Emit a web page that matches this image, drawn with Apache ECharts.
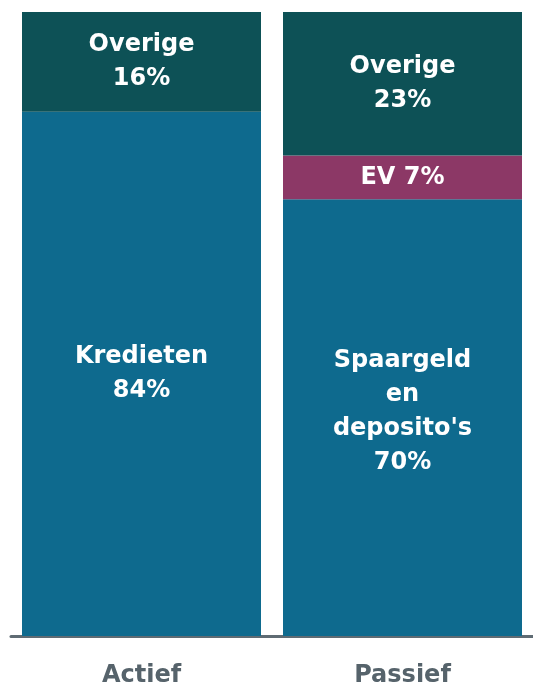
<!DOCTYPE html>
<html>
<head>
<meta charset="utf-8">
<script src="https://cdn.jsdelivr.net/npm/echarts@6/dist/echarts.min.js"></script>
<style>
  html, body { margin: 0; padding: 0; background: #fff; }
  #chart { width: 533px; height: 688px; }
</style>
</head>
<body>
<div id="chart"></div>
<script>
const categories = ['Actief', 'Passief'];
const baseNames = ['Kredieten', "Spaargeld\nen\ndeposito's"];
const baseValues = [84, 70];
const evValues = [0, 7];
const otherValues = [16, 23];

const labelFont = {
  show: true,
  position: 'inside',
  color: '#ffffff',
  fontFamily: 'DejaVu Sans',
  fontWeight: 'bold',
  fontSize: 24,
  lineHeight: 34
};

const chart = echarts.init(document.getElementById('chart'));
chart.setOption({
  animation: false,
  grid: { left: 11, right: 0, top: 12, bottom: 52 },
  xAxis: {
    type: 'category',
    data: categories,
    axisLine: { lineStyle: { color: '#5f6b73', width: 3 } },
    axisTick: { show: false },
    axisLabel: {
      color: '#56636b',
      fontFamily: 'DejaVu Sans',
      fontWeight: 'bold',
      fontSize: 24,
      margin: 28
    }
  },
  yAxis: { type: 'value', min: 0, max: 100, show: false },
  series: [
    {
      name: 'Basis',
      type: 'bar',
      stack: 'total',
      barWidth: 239,
      data: baseValues,
      itemStyle: { color: '#0e6a8e' },
      label: Object.assign({}, labelFont, {
        formatter: (p) => baseNames[p.dataIndex] + '\n' + p.value + '%'
      }),
      labelLayout: (params) => (params.dataIndex === 1 ? { dy: -6 } : {})
    },
    {
      name: 'EV',
      type: 'bar',
      stack: 'total',
      barWidth: 239,
      data: evValues,
      itemStyle: { color: '#8c3866' },
      label: Object.assign({}, labelFont, {
        formatter: (p) => (p.value ? 'EV ' + p.value + '%' : '')
      })
    },
    {
      name: 'Overige',
      type: 'bar',
      stack: 'total',
      barWidth: 239,
      data: otherValues,
      itemStyle: { color: '#0d5156' },
      label: Object.assign({}, labelFont, {
        formatter: (p) => 'Overige\n' + p.value + '%'
      })
    }
  ]
});
</script>
</body>
</html>
